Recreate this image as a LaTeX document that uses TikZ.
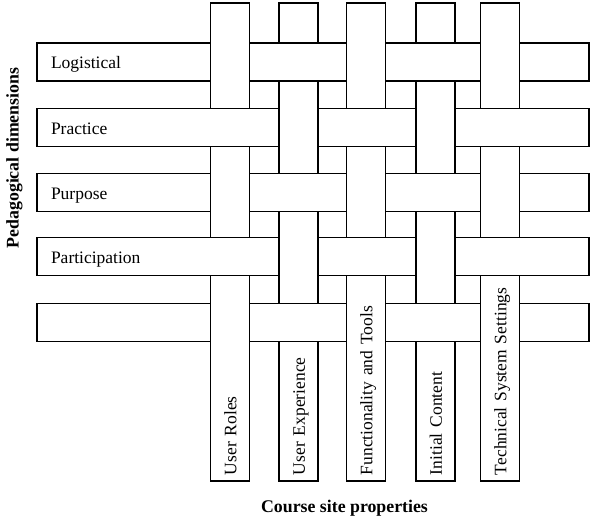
\documentclass[tikz,border=0pt]{standalone}
\usepackage{fontspec}
\setmainfont{Liberation Serif}
\begin{document}
\begin{tikzpicture}[x=1pt,y=-1pt,line width=1.9pt,
  hstrip/.style={draw,fill=white,rectangle,minimum width=552pt,minimum height=38pt,
    text width=524pt,inner xsep=14pt,inner ysep=0pt,align=left,
    text height=14pt,text depth=0pt,
    font=\fontsize{17.5}{20}\selectfont},
  vstrip/.style={draw,fill=white,rectangle,rotate=90,minimum width=478pt,minimum height=39pt,
    text width=466pt,inner xsep=6pt,inner ysep=0pt,align=left,
    text height=12.5pt,text depth=0pt,
    font=\fontsize{17.5}{20}\selectfont},
  titletext/.style={font=\fontsize{17.8}{20}\selectfont\bfseries,inner sep=0pt}]
\useasboundingbox (0,0) rectangle (592,516);
% horizontal strips
\node[hstrip] (h1) at (313,62) {Logistical};
\node[hstrip] (h2) at (313,127.5) {Practice};
\node[hstrip] (h3) at (313,192.5) {Purpose};
\node[hstrip] (h4) at (313,256.5) {Participation};
\node[hstrip] (h5) at (313,322.5) {};
% vertical strips
\node[vstrip] (v1) at (230,242) {User Roles};
\node[vstrip] (v2) at (298.5,242) {User Experience};
\node[vstrip] (v3) at (366,242) {Functionality and Tools};
\node[vstrip] (v4) at (435.5,242) {Initial Content};
\node[vstrip] (v5) at (500,242) {Technical System Settings};
% horizontal over vertical where (row+col) is odd
\foreach \i/\yc in {1/62,2/127.5,3/192.5,4/256.5,5/322.5}{
  \foreach \j/\xc in {1/230,2/298.5,3/366,4/435.5,5/500}{
    \pgfmathtruncatemacro{\myparity}{mod(\i+\j,2)}
    \ifnum\myparity=1
      \fill[white] (\xc-20.5,\yc-19) rectangle (\xc+20.5,\yc+19);
      \draw (\xc-21,\yc-19) -- (\xc+21,\yc-19);
      \draw (\xc-21,\yc+19) -- (\xc+21,\yc+19);
    \fi
  }
}
% titles
\node[titletext,rotate=90,anchor=base] (ped) at (18.5,158) {Pedagogical dimensions};
\node[titletext,anchor=base] (csp) at (344.5,512) {Course site properties};
\end{tikzpicture}
\end{document}
